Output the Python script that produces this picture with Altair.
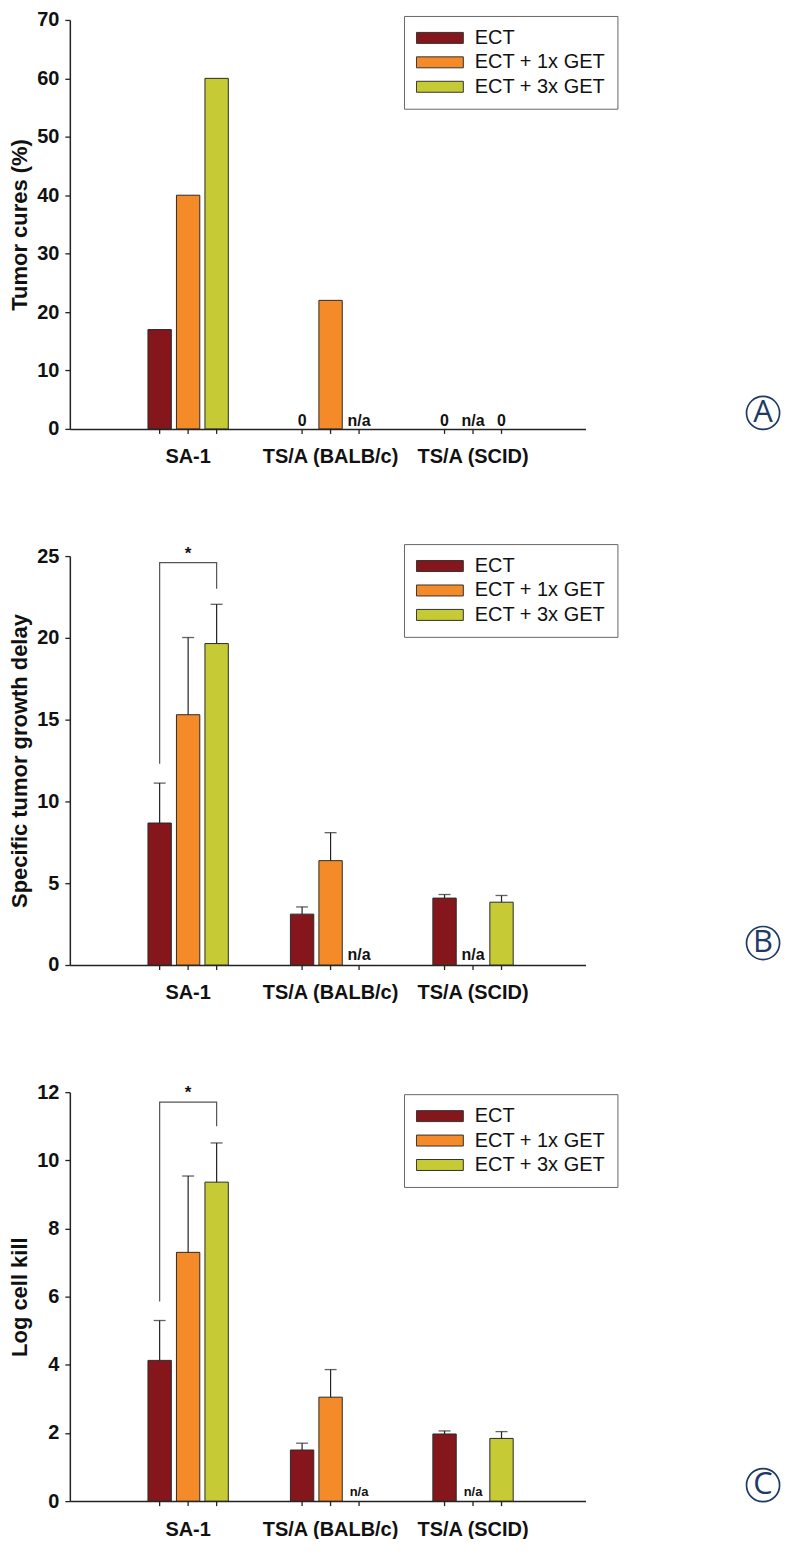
import altair as alt
import pandas as pd

FONT = "Liberation Sans"
INK = "#111111"
NAVY = "#1f3a64"

groups = ["SA-1", "TS/A (BALB/c)", "TS/A (SCID)"]
series = ["ECT", "ECT + 1x GET", "ECT + 3x GET"]
colors = ["#85161b", "#f58a28", "#c5ca35"]

# Panel A: Tumor cures (%)   (None = n/a)
cures_ect = [17, 0, 0]
cures_1x = [40, 22, None]
cures_3x = [60, None, 0]

# Panel B: Specific tumor growth delay (mean and upper error)
delay_ect = [8.68, 3.11, 4.09]
delay_1x = [15.3, 6.38, None]
delay_3x = [19.65, None, 3.84]
delay_ect_err = [2.44, 0.44, 0.22]
delay_1x_err = [4.72, 1.71, None]
delay_3x_err = [2.40, None, 0.41]

# Panel C: Log cell kill
kill_ect = [4.13, 1.50, 1.97]
kill_1x = [7.30, 3.05, None]
kill_3x = [9.36, None, 1.84]
kill_ect_err = [1.17, 0.20, 0.09]
kill_1x_err = [2.24, 0.81, None]
kill_3x_err = [1.15, None, 0.20]

# significance brackets (ECT leg bottom, top, 3x GET leg bottom)
bracket_b = [12.3, 24.6, 23.0]
bracket_c = [5.86, 11.71, 11.0]

W, H = 517, 410


def long_df(vals, errs):
    rows = []
    for s, vs, es in zip(series, vals, errs):
        for g, v, e in zip(groups, vs, es):
            has_v = v is not None
            has_e = has_v and e is not None
            rows.append(dict(
                group=g, series=s,
                value=v if has_v else 0.0,
                present=has_v,
                err=e if has_e else 0.0,
                has_err=has_e,
                top=(v + e) if has_e else 0.0,
                label=("n/a" if not has_v else ("0" if v == 0 else "")),
                zero=0.0,
            ))
    return pd.DataFrame(rows)


def panel(df, ymax, yticks, ytitle, legend_y, letter, letter_y,
          lab_size, lab_dy, bracket=None):
    xs = alt.Scale(paddingInner=0.4, paddingOuter=0.51, align=0.52)
    xo_scale = alt.Scale(paddingInner=0.18, paddingOuter=0.09)
    x_axis = alt.Axis(title=None, ticks=False, tickSize=0, labelAngle=0,
                      labelFont=FONT, labelFontSize=20, labelFontWeight="bold",
                      labelColor=INK, labelPadding=18, domainColor="#222",
                      domainWidth=1.5, grid=False)
    y_axis = alt.Axis(title=ytitle, values=yticks, grid=False, tickSize=5,
                      tickColor="#222", tickWidth=1.3, domainColor="#222",
                      domainWidth=1.5, labelFont=FONT, labelFontSize=20,
                      labelFontWeight="bold", labelColor=INK, labelPadding=6,
                      titleFont=FONT, titleFontSize=22, titleFontWeight="bold",
                      titleColor=INK, titlePadding=5)
    ys = alt.Scale(domain=[0, ymax], nice=False, zero=True)

    def X():
        return alt.X("group:N", sort=groups, scale=xs, axis=x_axis)

    def XO():
        return alt.XOffset("series:N", sort=series, scale=xo_scale)

    def Y(field):
        return alt.Y(field, type="quantitative", scale=ys, axis=y_axis)

    base = alt.Chart(df)

    bars = base.transform_filter("datum.present && datum.value > 0").mark_bar(
        stroke="#2a2a2a", strokeWidth=1
    ).encode(
        x=X(), xOffset=XO(), y=Y("value"),
        color=alt.Color(
            "series:N", sort=series,
            scale=alt.Scale(domain=series, range=colors),
            legend=alt.Legend(
                title=None, orient="none", legendX=335, legendY=legend_y,
                direction="vertical",
                symbolType="M-1,-0.234H1V0.234H-1Z", symbolSize=2209,
                symbolStrokeColor="#333", symbolStrokeWidth=1, symbolOpacity=1,
                labelFont=FONT, labelFontSize=20, labelColor=INK,
                labelOffset=11, labelLimit=300,
                strokeColor="#666", fillColor="white", padding=12,
                rowPadding=4.5, clipHeight=20,
            ),
        ),
    )

    ticks = base.mark_rule(color="#222", strokeWidth=1.3).encode(
        x=X(), xOffset=XO(), y=alt.value(H), y2=alt.value(H + 5)
    )

    labels = base.transform_filter("datum.label != ''").mark_text(
        font=FONT, fontSize=lab_size, fontWeight="bold", color=INK,
        baseline="alphabetic", dy=lab_dy
    ).encode(x=X(), xOffset=XO(), y=Y("zero"), text="label:N")

    layers = [bars, ticks, labels]

    if df["has_err"].any():
        err_base = base.transform_filter("datum.has_err")
        err_rule = err_base.mark_rule(color="#222", strokeWidth=1.2).encode(
            x=X(), xOffset=XO(), y=Y("value"), y2="top:Q"
        )
        err_cap = err_base.mark_tick(orient="horizontal", size=12, thickness=1.3,
                                     color="#222").encode(
            x=X(), xOffset=XO(), y=Y("top")
        )
        layers += [err_rule, err_cap]

    if bracket is not None:
        bdf = pd.DataFrame({
            "group": [groups[0]] * 4,
            "series": [series[0], series[0], series[2], series[2]],
            "v": [bracket[0], bracket[1], bracket[1], bracket[2]],
            "order": [0, 1, 2, 3],
        })
        bline = alt.Chart(bdf).mark_line(color="#555", strokeWidth=1.2).encode(
            x=X(), xOffset=XO(), y=Y("v"), order="order:Q"
        )
        sdf = pd.DataFrame({"group": [groups[0]], "series": [series[1]],
                            "v": [bracket[1]], "t": ["*"]})
        star = alt.Chart(sdf).mark_text(
            font=FONT, fontSize=17, fontWeight="bold", color=INK,
            baseline="alphabetic", dy=-4
        ).encode(x=X(), xOffset=XO(), y=Y("v"), text="t:N")
        layers += [bline, star]

    ldf = pd.DataFrame({"letter": [letter]})
    ring = alt.Chart(ldf).mark_point(
        shape="circle", size=1100, filled=False, stroke=NAVY, strokeWidth=1.7,
        opacity=1
    ).encode(x=alt.value(695), y=alt.value(letter_y))
    let = alt.Chart(ldf).mark_text(
        font="Open Sans", fontSize=31, color=NAVY, baseline="middle",
        align="center"
    ).encode(x=alt.value(695), y=alt.value(letter_y), text="letter:N")
    layers += [ring, let]

    return alt.layer(*layers).properties(width=W, height=H)


dfA = long_df([cures_ect, cures_1x, cures_3x], [[None] * 3] * 3)
dfB = long_df([delay_ect, delay_1x, delay_3x],
              [delay_ect_err, delay_1x_err, delay_3x_err])
dfC = long_df([kill_ect, kill_1x, kill_3x],
              [kill_ect_err, kill_1x_err, kill_3x_err])

pA = panel(dfA, 70, list(range(0, 71, 10)), "Tumor cures (%)", -4, "A", 394,
           16, -3)
pB = panel(dfB, 25, list(range(0, 26, 5)), "Specific tumor growth delay", -12,
           "B", 388, 16, -5, bracket_b)
pC = panel(dfC, 12, list(range(0, 13, 2)), "Log cell kill", 2, "C", 394,
           13, -5, bracket_c)

chart = alt.vconcat(pA, pB, pC, spacing=127.5, bounds="flush").resolve_scale(
    color="independent", x="independent", y="independent"
).properties(
    padding={"left": 0, "top": 0, "right": 0, "bottom": -2},
    background="white",
).configure_view(stroke=None)

chart.save("out.html", embed_options={"renderer": "svg", "actions": False})
